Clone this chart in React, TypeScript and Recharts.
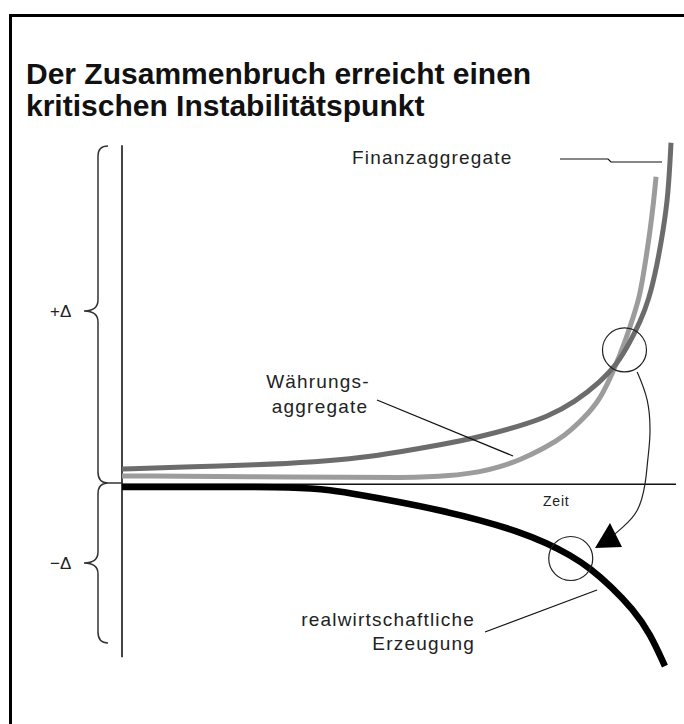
import { LineChart, Line, XAxis, YAxis, ReferenceLine, ReferenceDot } from 'recharts';

// time axis 0..100, value axis -54..100 (0 = the Zeit axis)
const finanz = [
  { x: 0, y: 4.4 }, { x: 10.8, y: 5.0 }, { x: 24.4, y: 5.6 }, { x: 35.2, y: 6.5 },
  { x: 43.0, y: 7.6 }, { x: 50.2, y: 9.4 }, { x: 57.4, y: 11.4 }, { x: 64.6, y: 13.7 },
  { x: 71.8, y: 16.9 }, { x: 76.7, y: 19.5 }, { x: 81.8, y: 23.9 }, { x: 86.3, y: 29.7 },
  { x: 89.4, y: 34.9 }, { x: 91.7, y: 41.3 }, { x: 93.5, y: 47.1 }, { x: 95.1, y: 53.5 },
  { x: 96.6, y: 63.7 }, { x: 97.7, y: 73.9 }, { x: 98.6, y: 84.0 }, { x: 99.1, y: 99.2 },
];

const waehrung = [
  { x: 0, y: 2.4 }, { x: 32.1, y: 2.1 }, { x: 52.5, y: 1.8 }, { x: 59.2, y: 2.4 },
  { x: 64.6, y: 3.5 }, { x: 68.2, y: 5.0 }, { x: 71.8, y: 7.0 }, { x: 76.3, y: 10.5 },
  { x: 79.9, y: 14.0 }, { x: 83.4, y: 19.2 }, { x: 86.3, y: 24.5 }, { x: 88.8, y: 33.2 },
  { x: 90.8, y: 41.3 }, { x: 92.4, y: 49.1 }, { x: 93.5, y: 54.9 }, { x: 94.4, y: 63.7 },
  { x: 95.3, y: 73.3 }, { x: 96.0, y: 82.6 }, { x: 96.4, y: 89.3 },
];

const erzeugung = [
  { x: 0, y: -0.8 }, { x: 14.1, y: -0.8 }, { x: 32.1, y: -0.8 }, { x: 37.5, y: -1.7 },
  { x: 43.0, y: -3.1 }, { x: 50.2, y: -5.2 }, { x: 57.4, y: -7.6 }, { x: 64.6, y: -10.4 },
  { x: 71.8, y: -13.9 }, { x: 76.7, y: -17.1 }, { x: 80.9, y: -20.6 }, { x: 84.5, y: -24.4 },
  { x: 88.4, y: -29.9 }, { x: 92.2, y: -36.3 }, { x: 95.3, y: -43.3 }, { x: 98.0, y: -52.9 },
];

// curved arrow from the upper to the lower circle
const arrow = [
  { x: 93.0, y: 32.6 }, { x: 94.8, y: 24.4 }, { x: 95.3, y: 14.8 }, { x: 94.9, y: 7.0 },
  { x: 94.4, y: 0 }, { x: 93.0, y: -7.6 }, { x: 90.4, y: -12.5 }, { x: 88.1, y: -15.7 },
];

const circles = [
  { x: 90.7, y: 39.0 },
  { x: 81.0, y: -21.6 },
];

const titleLines = ['Der Zusammenbruch erreicht einen', 'kritischen Instabilitätspunkt'];

const W = 684;
const H = 724;
const font = '"Liberation Sans", Arial, sans-serif';

export default function App() {
  return (
    <div style={{ position: 'absolute', left: 0, top: 0, width: W, height: H, background: '#fff' }}>
      <LineChart width={W} height={H} margin={{ top: 140, right: 8, bottom: 54, left: 122 }}>
        <XAxis type="number" dataKey="x" domain={[0, 100]} hide />
        <YAxis type="number" dataKey="y" domain={[-54, 100]} hide />
        <ReferenceLine segment={[{ x: 0, y: 98.5 }, { x: 0, y: -50.3 }]} stroke="#444" strokeWidth={2} />
        <ReferenceLine segment={[{ x: 0, y: 0 }, { x: 100, y: 0 }]} stroke="#111" strokeWidth={1.5} />
        <Line data={erzeugung} dataKey="y" type="basis" stroke="#000" strokeWidth={6.5} dot={false} isAnimationActive={false} />
        <Line data={waehrung} dataKey="y" type="basis" stroke="#9c9c9c" strokeWidth={5} dot={false} isAnimationActive={false} />
        <Line data={finanz} dataKey="y" type="basis" stroke="#6c6c6c" strokeWidth={5} dot={false} isAnimationActive={false} />
        <Line data={arrow} dataKey="y" type="natural" stroke="#222" strokeWidth={1.2} dot={false} isAnimationActive={false} />
        {circles.map((c, i) => (
          <ReferenceDot key={i} x={c.x} y={c.y} r={22} fill="none" stroke="#222" strokeWidth={1.2} />
        ))}
      </LineChart>
      <svg width={W} height={H} style={{ position: 'absolute', left: 0, top: 0, pointerEvents: 'none' }}>
        <rect x={10.5} y={15.5} width={W} height={H} fill="none" stroke="#000" strokeWidth={3} />
        <text x={26} fontFamily={font} fontWeight="bold" fontSize={30} fill="#111">
          <tspan x={26} y={84}>{titleLines[0]}</tspan>
          <tspan x={26} y={116}>{titleLines[1]}</tspan>
        </text>
        {/* braces */}
        <path d="M108,146 Q98,146 98,156 L98,300 Q98,311 84,311 Q98,311 98,322 L98,472 Q98,483 108,483 M108,483 Q98,483 98,494 L98,552 Q98,563 84,563 Q98,563 98,574 L98,632 Q98,643 108,643 M108,483 L122,483" fill="none" stroke="#333" strokeWidth={1.5} />
        <text x={50} y={317} fontFamily={font} fontSize={17} fill="#222">+Δ</text>
        <text x={50} y={569} fontFamily={font} fontSize={17} fill="#222">−Δ</text>
        {/* arrow head */}
        <polygon points="595,548 610,523 622,547" fill="#000" />
        {/* leaders */}
        <polyline points="560,159 608,159 611,162 662,162" fill="none" stroke="#111" strokeWidth={1.2} />
        <line x1={377} y1={400} x2={513} y2={456} stroke="#111" strokeWidth={1.2} />
        <line x1={485} y1={632} x2={597} y2={590} stroke="#111" strokeWidth={1.2} />
        <g fontFamily={font} fontSize={19} fill="#222" letterSpacing={1.2}>
          <text x={352} y={164}>Finanzaggregate</text>
          <text x={318} y={388} textAnchor="middle">Währungs-</text>
          <text x={320} y={413} textAnchor="middle">aggregate</text>
          <text x={475} y={626} textAnchor="end">realwirtschaftliche</text>
          <text x={475} y={650} textAnchor="end">Erzeugung</text>
        </g>
        <text x={543} y={506} fontFamily={font} fontSize={14} fill="#222" letterSpacing={0.8}>Zeit</text>
      </svg>
    </div>
  );
}
